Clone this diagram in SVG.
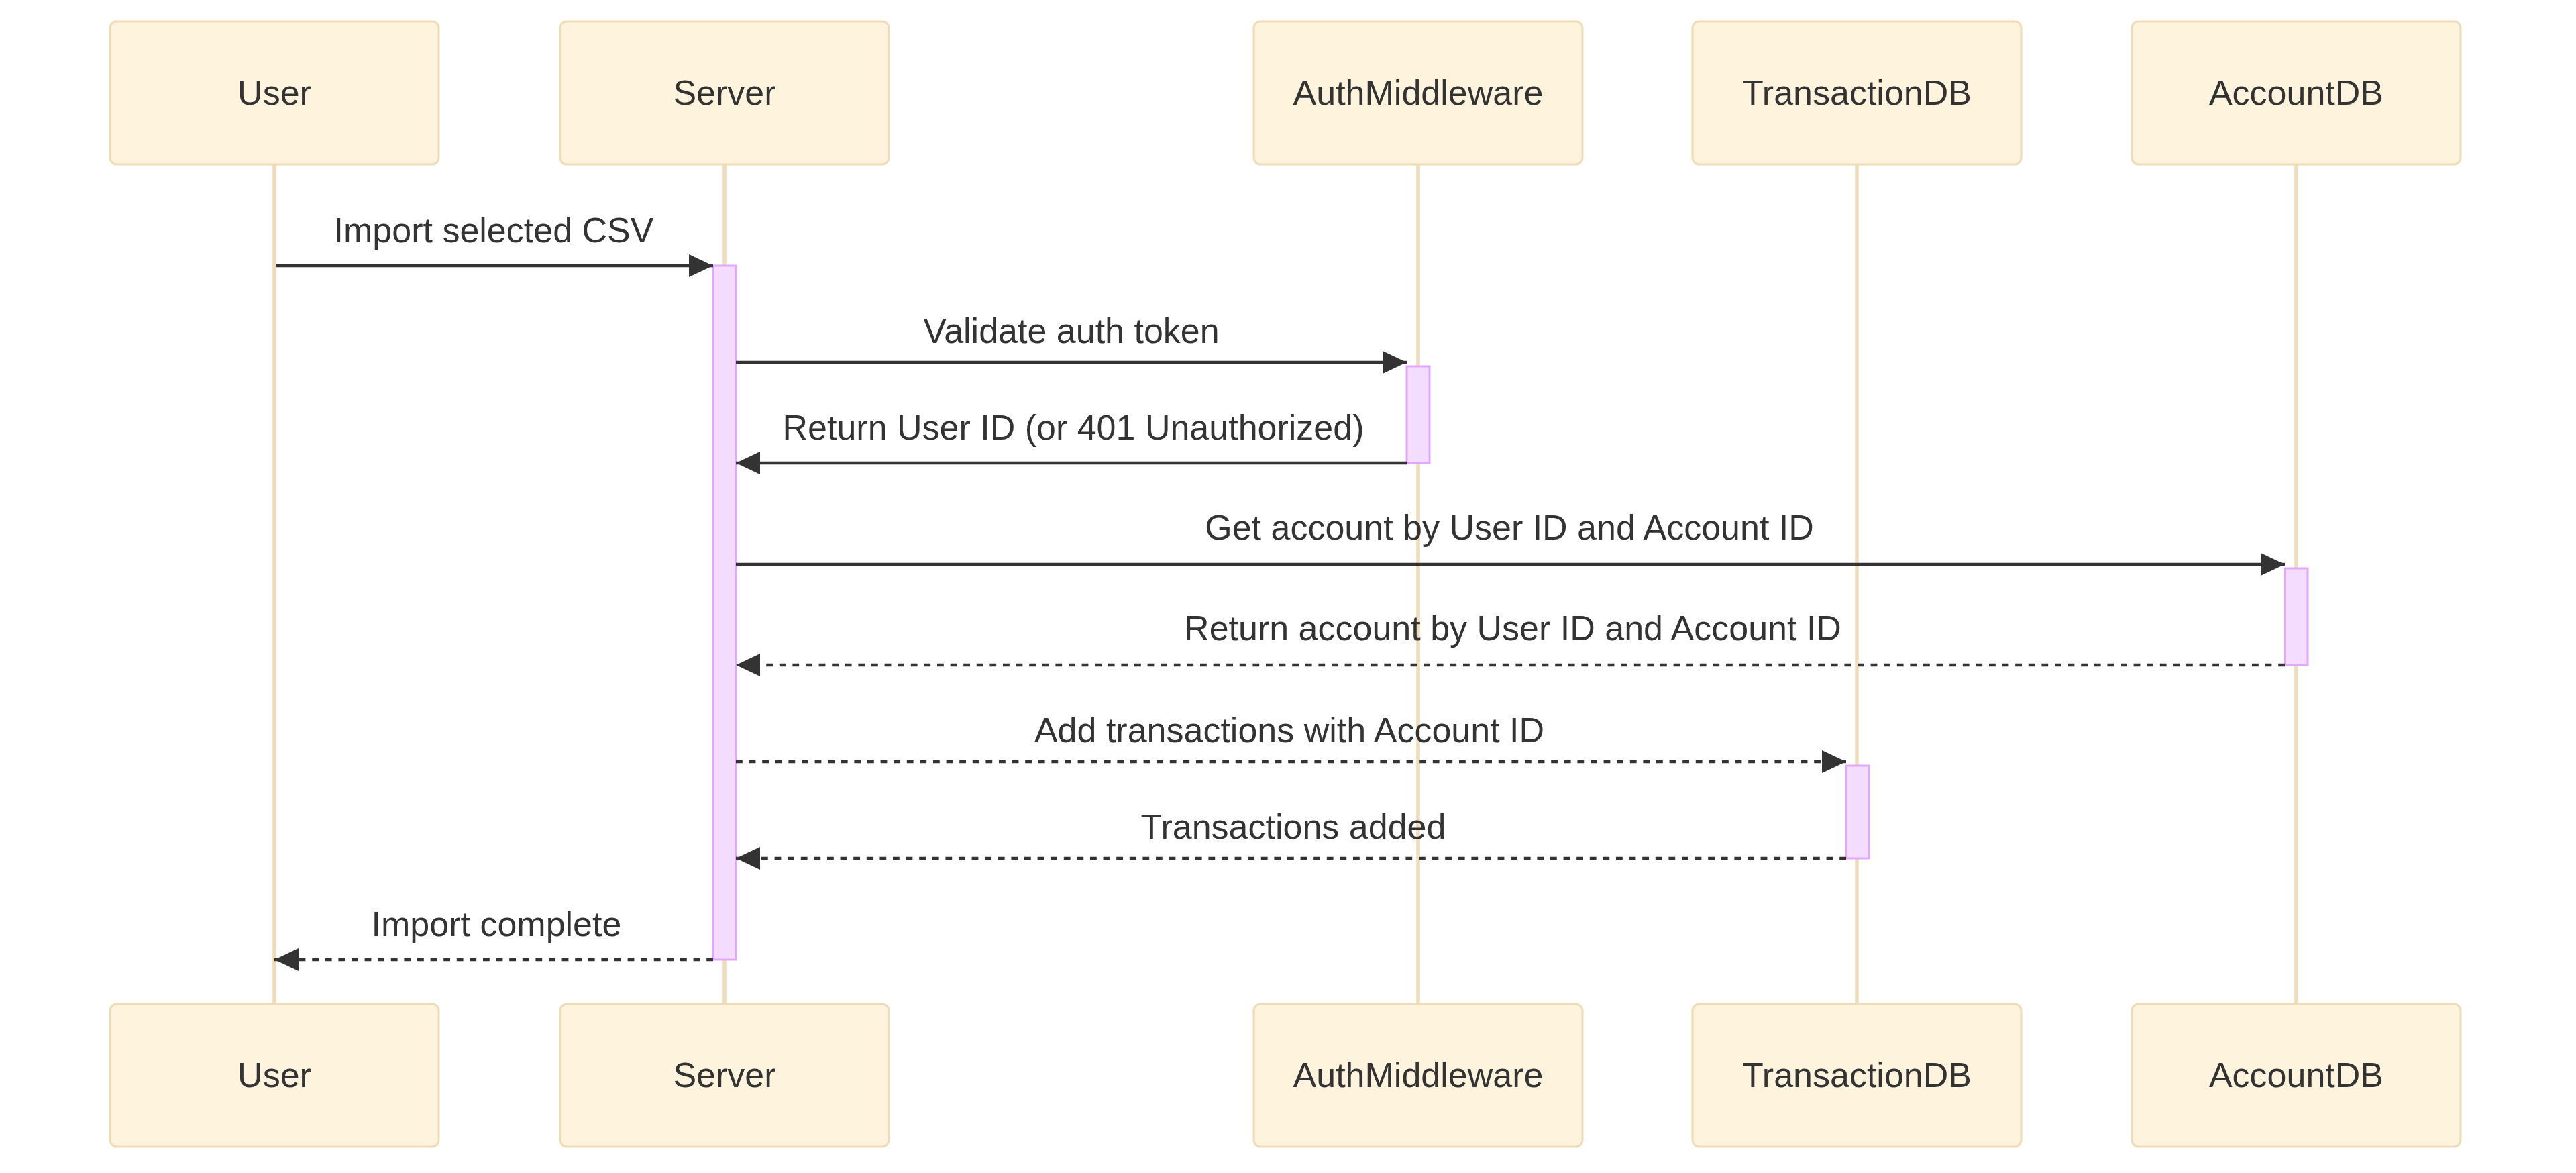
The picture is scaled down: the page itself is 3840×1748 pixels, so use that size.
<svg xmlns="http://www.w3.org/2000/svg" width="3840" height="1748" viewBox="0 0 3840 1748">
<defs>
<style>
.actor{fill:#FEF3DD;stroke:#EEDCB6;stroke-width:3}
.lbl{font-family:"Liberation Sans",Arial,sans-serif;font-size:52px;fill:#333333;text-anchor:middle}
.life{stroke:#EEDDB8;stroke-width:5.5;fill:none}
.act{fill:#F4DCFF;stroke:#E2A8FF;stroke-width:3}
.msg{stroke:#333333;stroke-width:4.5;fill:none;marker-end:url(#arrow)}
.dash{stroke-dasharray:9.8 9.8}
</style>
<marker id="arrow" markerUnits="userSpaceOnUse" viewBox="0 0 36 34" markerWidth="36" markerHeight="34" refX="36" refY="17" orient="auto">
<path d="M0,0 L36,17 L0,34 z" fill="#333333"/>
</marker>
</defs>
<rect width="3840" height="1748" fill="#ffffff"/>
<g id="lifelines">
<line class="life" x1="409" y1="245" x2="409" y2="1496"/>
<line class="life" x1="1080" y1="245" x2="1080" y2="1496"/>
<line class="life" x1="2114" y1="245" x2="2114" y2="1496"/>
<line class="life" x1="2768" y1="245" x2="2768" y2="1496"/>
<line class="life" x1="3423" y1="245" x2="3423" y2="1496"/>
</g>
<g id="User">
<rect class="actor" x="164" y="32" width="490" height="213" rx="10"/>
<text class="lbl" x="409" y="156">User</text>
<rect class="actor" x="164" y="1496" width="490" height="213" rx="10"/>
<text class="lbl" x="409" y="1620">User</text>
</g>
<g id="Server">
<rect class="actor" x="835" y="32" width="490" height="213" rx="10"/>
<text class="lbl" x="1080" y="156">Server</text>
<rect class="actor" x="835" y="1496" width="490" height="213" rx="10"/>
<text class="lbl" x="1080" y="1620">Server</text>
</g>
<g id="AuthMiddleware">
<rect class="actor" x="1869" y="32" width="490" height="213" rx="10"/>
<text class="lbl" x="2114" y="156">AuthMiddleware</text>
<rect class="actor" x="1869" y="1496" width="490" height="213" rx="10"/>
<text class="lbl" x="2114" y="1620">AuthMiddleware</text>
</g>
<g id="TransactionDB">
<rect class="actor" x="2523" y="32" width="490" height="213" rx="10"/>
<text class="lbl" x="2768" y="156">TransactionDB</text>
<rect class="actor" x="2523" y="1496" width="490" height="213" rx="10"/>
<text class="lbl" x="2768" y="1620">TransactionDB</text>
</g>
<g id="AccountDB">
<rect class="actor" x="3178" y="32" width="490" height="213" rx="10"/>
<text class="lbl" x="3423" y="156">AccountDB</text>
<rect class="actor" x="3178" y="1496" width="490" height="213" rx="10"/>
<text class="lbl" x="3423" y="1620">AccountDB</text>
</g>
<g id="activations">
<rect class="act" x="1063" y="396" width="34" height="1034"/>
<rect class="act" x="2097" y="546" width="34" height="144"/>
<rect class="act" x="3406" y="847" width="34" height="144"/>
<rect class="act" x="2752" y="1141" width="34" height="138"/>
</g>
<g id="connectors">
<line class="msg" x1="411" y1="396" x2="1063" y2="396"/>
<text class="lbl" x="736" y="361">Import selected CSV</text>
<line class="msg" x1="1097" y1="540" x2="2097" y2="540"/>
<text class="lbl" x="1597" y="511">Validate auth token</text>
<line class="msg" x1="2097" y1="690" x2="1097" y2="690"/>
<text class="lbl" x="1600" y="655">Return User ID (or 401 Unauthorized)</text>
<line class="msg" x1="1097" y1="841" x2="3406" y2="841"/>
<text class="lbl" x="2250" y="804">Get account by User ID and Account ID</text>
<line class="msg dash" x1="3406" y1="991" x2="1097" y2="991"/>
<text class="lbl" x="2255" y="954">Return account by User ID and Account ID</text>
<line class="msg dash" x1="1097" y1="1135" x2="2752" y2="1135"/>
<text class="lbl" x="1922" y="1106">Add transactions with Account ID</text>
<line class="msg dash" x1="2752" y1="1279" x2="1097" y2="1279"/>
<text class="lbl" x="1928" y="1250">Transactions added</text>
<line class="msg dash" x1="1063" y1="1430" x2="409" y2="1430"/>
<text class="lbl" x="740" y="1395">Import complete</text>
</g>
</svg>
